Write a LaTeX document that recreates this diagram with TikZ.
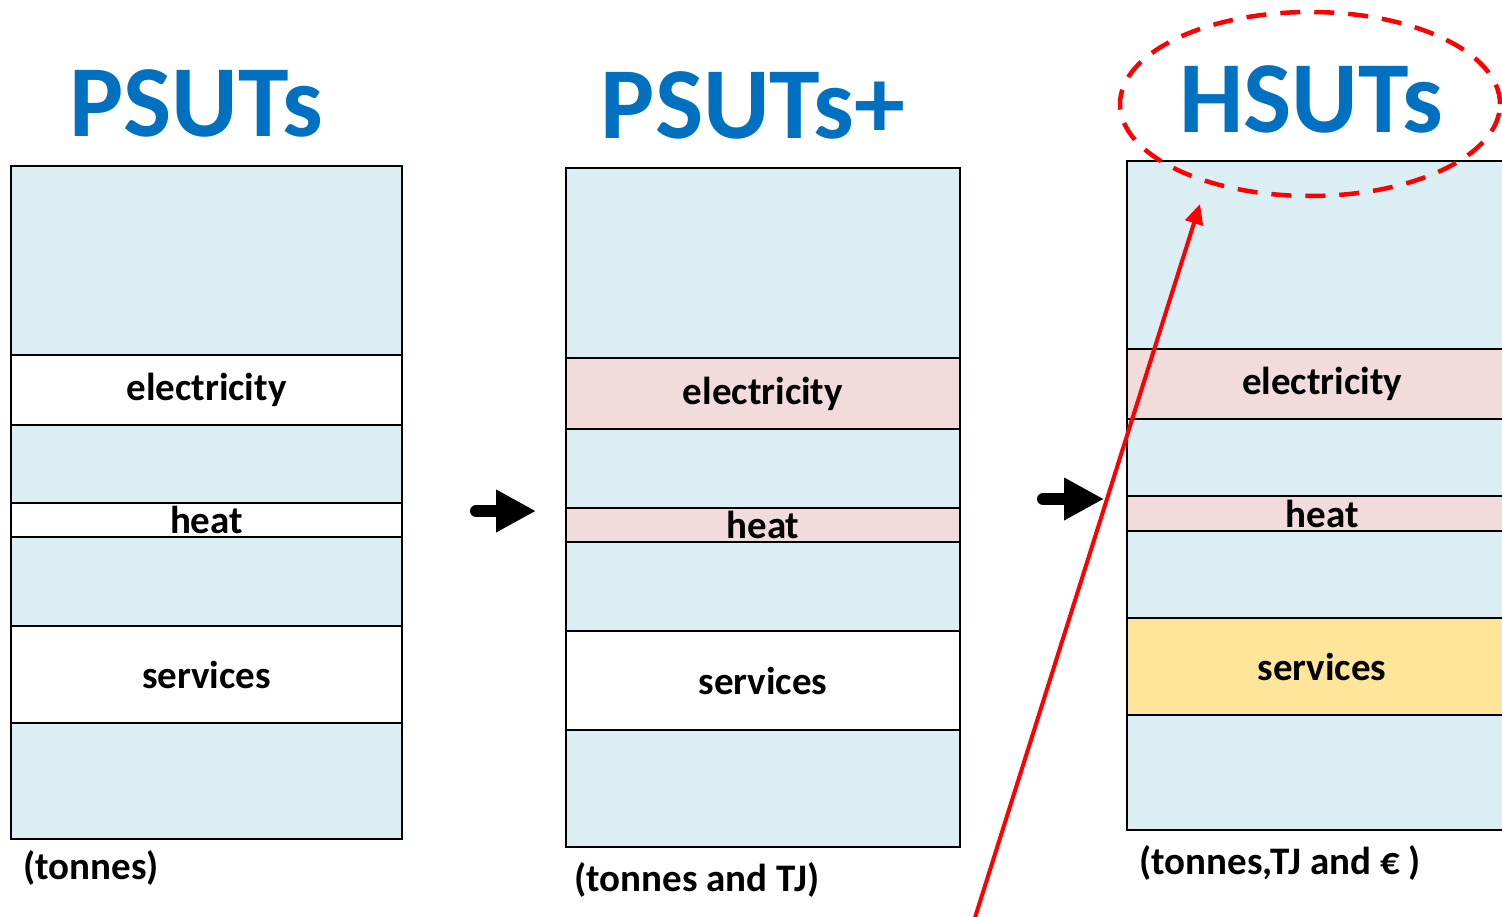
\documentclass[tikz,border=0pt]{standalone}
\usepackage{fontspec}
\setmainfont{Carlito}
\usetikzlibrary{arrows.meta,shapes.geometric}

\definecolor{bandblue}{HTML}{DBEEF4}
\definecolor{bandpink}{HTML}{F2DCDB}
\definecolor{bandgold}{HTML}{FFE599}
\definecolor{titleblue}{HTML}{0070C0}

\newcommand\bandfont{\fontsize{39}{41}\selectfont\bfseries}
\newcommand\headfont{\fontsize{102}{105}\selectfont\bfseries}

\tikzset{
  band/.style={draw=black, line width=1.8pt, inner sep=0pt, font=\bandfont, fill=bandblue},
  plainband/.style={band, fill=white},
  pinkband/.style={band, fill=bandpink},
  goldband/.style={band, fill=bandgold},
  heading/.style={text=titleblue, font=\headfont, inner sep=0pt},
  unitnote/.style={anchor=west, font=\bandfont, inner sep=0pt},
  stepper/.style={line width=12pt, line cap=round, -{Triangle[length=40pt,width=40pt]}},
  pointer/.style={red, line width=4pt, -{Triangle[length=20pt,width=18pt]}},
  focus/.style={red, line width=4.5pt, dash pattern=on 20pt off 14pt}
}

\begin{document}
\begin{tikzpicture}[x=1pt, y=-1pt]
\useasboundingbox (0,0) rectangle (1502,917);
\clip (0,0) rectangle (1502,917);

% headings
\node[heading] (h1) at (196,103) {PSUTs};
\node[heading] (h2) at (753,105) {PSUTs+};
\node[heading] (h3) at (1311,99) {HSUTs};

% first table: physical supply and use (tonnes)
\begin{scope}[every node/.append style={minimum width=391pt}]
\node[band]      (a1) at (206.5,260.5) [minimum height=189pt] {};
\node[plainband] (a2) at (206.5,390)   [minimum height=70pt]  {electricity};
\node[band]      (a3) at (206.5,464)   [minimum height=78pt]  {};
\node[plainband] (a4) at (206.5,520)   [minimum height=34pt]  {heat};
\node[band]      (a5) at (206.5,581.5) [minimum height=89pt]  {};
\node[plainband] (a6) at (206.5,674.5) [minimum height=97pt]  {services};
\node[band]      (a7) at (206.5,781)   [minimum height=116pt] {};
\end{scope}

% second table: with energy flows (tonnes and TJ)
\begin{scope}[every node/.append style={minimum width=394pt}]
\node[band]      (b1) at (763,263)   [minimum height=190pt] {};
\node[pinkband]  (b2) at (763,393.5) [minimum height=71pt]  {electricity};
\node[band]      (b3) at (763,468.5) [minimum height=79pt]  {};
\node[pinkband]  (b4) at (763,525)   [minimum height=34pt]  {heat};
\node[band]      (b5) at (763,586.5) [minimum height=89pt]  {};
\node[plainband] (b6) at (763,680.5) [minimum height=99pt]  {services};
\node[band]      (b7) at (763,788.5) [minimum height=117pt] {};
\end{scope}

% third table: hybrid (tonnes, TJ and euro)
\begin{scope}[every node/.append style={minimum width=390pt}]
\node[band]      (c1) at (1322,255)   [minimum height=188pt] {};
\node[pinkband]  (c2) at (1322,384)   [minimum height=70pt]  {electricity};
\node[band]      (c3) at (1322,457.5) [minimum height=77pt]  {};
\node[pinkband]  (c4) at (1322,513.5) [minimum height=35pt]  {heat};
\node[band]      (c5) at (1322,574.5) [minimum height=87pt]  {};
\node[goldband]  (c6) at (1322,666.5) [minimum height=97pt]  {services};
\node[band]      (c7) at (1322,772.5) [minimum height=115pt] {};
\end{scope}

% units under each table
\node[unitnote] (u1) at (23,868)   {(tonnes)};
\node[unitnote] (u2) at (574,880)  {(tonnes and TJ)};
\node[unitnote] (u3) at (1139,863) {(tonnes,TJ and € )};

% steps between tables
\coordinate (s1a) at (476,511);
\coordinate (s1b) at (536,511);
\coordinate (s2a) at (1043,499);
\coordinate (s2b) at (1104,499);
\draw[stepper] (s1a) -- (s1b);
\draw[stepper] (s2a) -- (s2b);

% highlight of the hybrid table
\node[focus, draw, ellipse, minimum width=380pt, minimum height=184pt, inner sep=0pt] (ring) at (1310,104) {};
\coordinate (ptail) at (972,927);
\coordinate (ptip) at (1200,204);
\draw[pointer] (ptail) -- (ptip);
\end{tikzpicture}
\end{document}
